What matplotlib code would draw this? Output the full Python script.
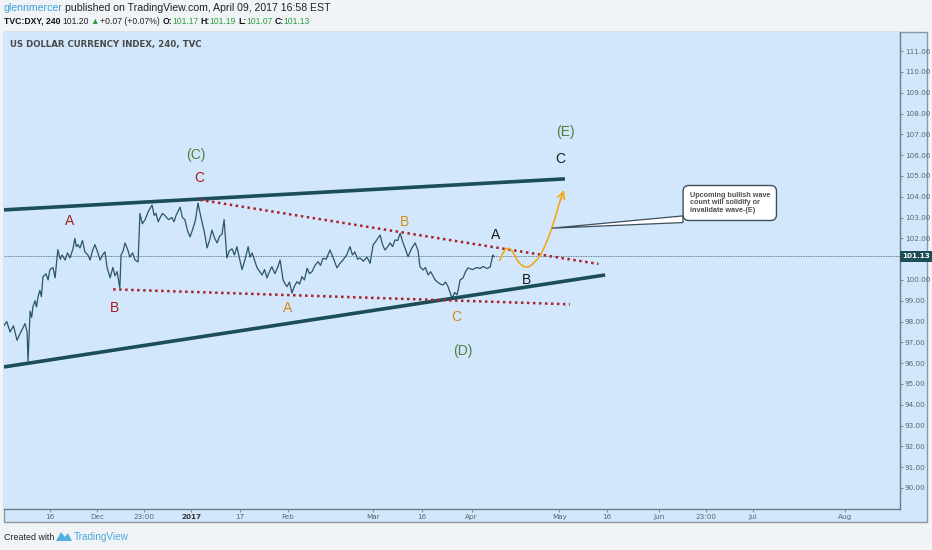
import matplotlib
matplotlib.use("Agg")
import matplotlib.pyplot as plt
from matplotlib.patches import Rectangle, Polygon

# price path (x in chart days from 1 Jan 2017, y = DXY close)
days = [-61.5, -60.6, -59.5, -58.4, -57.2, -56.3, -55.6, -54.6, -53.9, -53.6,
        -52.9, -52.4, -52.0, -51.3, -50.8, -50.3, -49.7, -49.2, -48.7, -47.7,
        -47.0, -46.4, -45.4, -44.7, -43.8, -43.0, -42.4, -41.4, -40.6, -39.8,
        -38.8, -38.2, -37.7, -37.2, -36.5, -35.7, -34.9, -33.9, -33.2, -32.4,
        -31.6, -30.6, -29.9, -29.1, -28.3, -27.6, -26.6, -25.7, -25.0, -24.3,
        -23.4, -23.0, -22.3, -21.7, -20.9, -20.1, -19.2, -18.4, -17.4, -16.8,
        -16.0, -15.1, -14.0, -12.8, -12.1, -11.5, -10.8, -10.2, -9.4, -8.6,
        -7.4, -6.3, -5.6, -4.9, -3.6, -2.8, -2.0, -1.2, -0.3, 0.7,
        1.5, 2.3, 3.0, 3.6, 4.4, 5.3, 6.1, 6.9, 7.8, 8.6,
        9.4, 10.2, 10.9, 11.8, 12.6, 13.5, 14.3, 15.1, 16.0, 16.8,
        17.8, 18.8, 19.4, 20.1, 21.0, 21.7, 22.6, 23.4, 24.2, 25.0,
        25.8, 26.6, 27.6, 28.6, 29.3, 30.3, 31.0, 31.6, 32.4, 33.2,
        34.0, 34.9, 35.7, 36.5, 37.3, 38.2, 39.0, 39.8, 40.8, 41.8,
        42.6, 43.4, 44.5, 45.7, 46.4, 47.2, 48.0, 49.0, 50.0, 51.2,
        52.3, 53.1, 53.9, 54.8, 55.6, 56.7, 57.9, 58.9, 59.9, 61.0,
        62.2, 63.0, 63.8, 64.7, 65.5, 66.3, 67.1, 68.0, 68.8, 69.7,
        70.5, 71.4, 72.5, 73.7, 74.2, 74.7, 75.3, 76.3, 77.1, 78.0,
        78.8, 79.6, 80.3, 80.9, 82.0, 82.9, 83.7, 84.5, 85.2, 85.9,
        86.7, 87.5, 88.0, 88.5, 89.5, 90.3, 91.1, 92.6, 94.1, 95.1,
        96.1, 97.3, 98.4, 99.3, 99.7]
closes = [97.8, 98.0, 97.5, 97.8, 97.1, 97.4, 97.6, 97.9, 97.5, 96.1,
          98.5, 98.2, 98.7, 99.0, 98.7, 99.2, 99.5, 99.2, 100.15, 100.3,
          100.0, 100.5, 100.6, 100.1, 101.45, 101.0, 101.2, 100.96, 101.3, 101.06,
          101.5, 102.0, 101.6, 101.7, 101.54, 101.9, 101.35, 101.2, 100.96, 101.4,
          101.7, 101.3, 100.96, 101.2, 101.35, 100.6, 100.1, 100.6, 100.2, 100.4,
          99.6, 101.2, 101.4, 101.78, 101.5, 101.1, 101.3, 100.96, 100.87, 103.2,
          102.7, 102.9, 103.3, 103.6, 103.1, 103.2, 102.8, 102.98, 103.2, 103.1,
          102.9, 103.0, 102.8, 103.1, 103.5, 103.0, 102.9, 102.4, 102.07, 102.5,
          102.9, 103.7, 103.2, 102.8, 102.3, 101.54, 101.9, 102.4, 102.0, 101.78,
          102.1, 102.2, 102.9, 101.06, 101.4, 101.5, 101.2, 101.6, 101.0, 100.5,
          101.0, 101.6, 101.1, 101.3, 100.9, 100.6, 100.4, 100.24, 100.5, 100.1,
          100.4, 100.64, 100.3, 100.64, 100.96, 100.0, 99.8, 99.68, 99.9, 99.37,
          99.7, 99.92, 99.8, 100.16, 100.0, 100.56, 100.3, 100.4, 100.7, 100.88,
          100.7, 101.04, 101.0, 101.44, 101.2, 100.9, 100.58, 100.8, 100.96, 101.2,
          101.6, 101.2, 101.35, 101.0, 101.06, 100.9, 101.1, 100.8, 101.68, 101.9,
          102.16, 101.7, 101.44, 101.6, 101.78, 101.6, 101.92, 101.9, 102.25, 101.8,
          101.5, 101.12, 101.5, 101.78, 101.6, 101.4, 100.64, 100.48, 100.6, 100.24,
          100.4, 100.2, 100.0, 99.92, 99.8, 99.76, 99.9, 99.7, 99.4, 99.12,
          99.4, 99.28, 99.6, 100.0, 100.1, 100.4, 100.58, 100.5, 100.6, 100.55,
          100.65, 100.55, 100.62, 101.2, 101.13]
last_price = 101.13

# drawn trendlines: (day0, price0, day1, price1)
upper_channel = (-61.5, 103.37, 123.0, 104.86)
lower_channel = (-61.5, 95.82, 136.2, 100.24)
upper_dotted = (3.0, 103.85, 134.0, 100.77)
lower_dotted = (-25.6, 99.55, 124.6, 98.83)

# projected wave path
proj_days = [101.6, 102.6, 103.6, 104.6, 105.6, 106.8, 108.0, 109.5, 111.0,
             112.3, 113.6, 115.0, 116.3, 117.6, 118.8, 120.0, 121.2, 122.4, 123.0]
proj_price = [100.95, 101.3, 101.5, 101.52, 101.4, 101.1, 100.8, 100.64, 100.62,
              100.75, 100.95, 101.2, 101.6, 102.05, 102.55, 103.1, 103.7, 104.2, 104.45]

# wave labels: text, day, price, colour
GREEN, RED, ORANGE, BLACK = '#4f7f3f', '#a61c1c', '#d98a16', '#1a1a1a'
wave_labels = [
    ('(C)', 1.6, 106.0, GREEN), ('C', 2.6, 104.9, RED),
    ('A', -39.8, 102.84, RED), ('B', -25.0, 98.65, RED),
    ('A', 31.9, 98.65, ORANGE), ('B', 70.1, 102.79, ORANGE),
    ('C', 87.4, 98.22, ORANGE), ('(D)', 89.5, 96.59, GREEN),
    ('A', 100.3, 102.16, BLACK), ('B', 110.5, 100.0, BLACK),
    ('C', 121.4, 105.82, BLACK), ('(E)', 123.0, 107.1, GREEN),
]

# x axis ticks (TradingView bar-spaced axis)
tick_pos = [-46.4, -30.9, -15.5, 0.0, 16.1, 31.9, 59.9, 76.0, 92.3,
            121.2, 136.9, 153.9, 169.4, 184.8, 215.1]
tick_lab = ['16', 'Dec', '23:00', '2017', '17', 'Feb', 'Mar', '16', 'Apr',
            'May', '16', 'Jun', '23:00', 'Jul', 'Aug']
price_ticks = [p for p in range(90, 112) if p != 101]

W, H = 932, 550
PANEL = '#d2e7fb'
LINE = '#1b4e58'
GREY = '#5b6670'
SANS = 'Liberation Sans'

fig = plt.figure(figsize=(W / 100, H / 100), dpi=100, facecolor='#f1f4f7')


def px(x, y):
    return x / W, 1 - y / H


# chart panel incl. price scale
fig.patches.append(Rectangle(px(4, 522), 923 / W, 490 / H, transform=fig.transFigure,
                             fc=PANEL, ec='#8c98a3', lw=1.0, zorder=-5))

ax = fig.add_axes([4 / W, 1 - 509 / H, 896 / W, 477 / H])
ax.set_facecolor(PANEL)
ax.set_xlim(-61.5, 233.2)
ax.set_ylim(88.99, 111.92)
for side in ['top', 'left']:
    ax.spines[side].set_visible(False)
for side in ['right', 'bottom']:
    ax.spines[side].set_color('#6f7c87')
    ax.spines[side].set_linewidth(1.0)

ax.yaxis.tick_right()
ax.set_yticks(price_ticks)
ax.set_yticklabels([f'{p:.2f}' for p in price_ticks])
ax.set_xticks(tick_pos)
ax.set_xticklabels(tick_lab)
ax.tick_params(axis='both', colors='#6f7c87', labelcolor=GREY, labelsize=5.2,
               length=2.2, width=0.6, pad=1.2)
for lab in ax.get_xticklabels():
    if lab.get_text() == '2017':
        lab.set_fontweight('bold')
        lab.set_color('#333333')

# price
ax.plot(days, closes, color='#2b5662', lw=0.9, zorder=3)
ax.axhline(last_price, color='#3b5c66', lw=0.6, ls=(0, (1, 1)), zorder=2)
ax.annotate(f'{last_price:.2f}', xy=(1, last_price), xycoords=('axes fraction', 'data'),
            xytext=(1.5, 0), textcoords='offset points', va='center', ha='left',
            fontsize=5.2, fontweight='bold', color='white', zorder=10,
            annotation_clip=False,
            bbox=dict(boxstyle='square,pad=0.35', fc='#1b4e58', ec='none'))

# channel lines
for d0, p0, d1, p1 in [upper_channel, lower_channel]:
    ax.plot([d0, d1], [p0, p1], color=LINE, lw=2.6, solid_capstyle='butt', zorder=4)
for d0, p0, d1, p1 in [upper_dotted, lower_dotted]:
    ax.plot([d0, d1], [p0, p1], color='#a8232e', lw=1.8, ls=(0, (1, 1.4)), zorder=4)

# projected path
ax.plot(proj_days[:-1], proj_price[:-1], color='#f2a81d', lw=1.2, zorder=5)
ax.annotate('', xy=(proj_days[-1], proj_price[-1]), xytext=(proj_days[-3], proj_price[-3]),
            arrowprops=dict(arrowstyle='->,head_length=0.5,head_width=0.25',
                            color='#f2a81d', lw=1.2), zorder=5)

for txt, d, p, c in wave_labels:
    ax.text(d, p, txt, color=c, fontsize=10, ha='center', va='center',
            family=SANS, zorder=6)

# callout
ax.add_patch(Polygon([(161.8, 103.08), (118.65, 102.49), (161.8, 102.76)],
                     closed=True, fc='white', ec='#3d4f5a', lw=0.9, zorder=6))
ax.text(164.0, 103.7,
        'Upcoming bullish wave\ncount will solidify or\ninvalidate wave-(E)',
        fontsize=5.2, fontweight='bold', color='#4a4f55', family=SANS,
        ha='left', va='center', linespacing=1.1, zorder=7,
        bbox=dict(boxstyle='round,pad=0.9,rounding_size=0.8', fc='white',
                  ec='#3d4f5a', lw=1.0))

# chart title
fig.text(*px(10, 44), 'US DOLLAR CURRENCY INDEX, 240, TVC', fontsize=6.2,
         fontweight='bold', color='#4a4a4a', va='center', ha='left')

# header rows
renderer = fig.canvas.get_renderer()


def put_row(y, x, segments, size):
    for text, color, weight, gap in segments:
        t = fig.text(*px(x, y), text, color=color, fontweight=weight, fontsize=size,
                     va='center', ha='left', family=SANS)
        x += t.get_window_extent(renderer).width + gap


put_row(8, 4, [('glennmercer', '#3a9fd6', 'normal', 2),
               ('published on TradingView.com, April 09, 2017 16:58 EST',
                '#222222', 'normal', 0)], 7.6)
put_row(21, 4, [('TVC:DXY, 240', '#111111', 'bold', 2),
                ('101.20', '#222222', 'normal', 1.5),
                ('\u25B2', '#2e9e3e', 'normal', 1.5),
                ('+0.07 (+0.07%)', '#222222', 'normal', 2),
                ('O:', '#111111', 'bold', 0), ('101.17', '#2e9e3e', 'normal', 2),
                ('H:', '#111111', 'bold', 0), ('101.19', '#2e9e3e', 'normal', 2),
                ('L:', '#111111', 'bold', 0), ('101.07', '#2e9e3e', 'normal', 2),
                ('C:', '#111111', 'bold', 0), ('101.13', '#2e9e3e', 'normal', 0)],
        6.2)

# footer
fig.text(*px(4, 537), 'Created with', fontsize=6.4, color='#222222', va='center',
         family=SANS)
fig.patches.append(Polygon([px(56, 541), px(61, 532), px(65, 537), px(68, 533),
                            px(72, 541)], closed=True, transform=fig.transFigure,
                           fc='#56aee0', ec='none'))
fig.text(*px(74, 537), 'TradingView', fontsize=7.2, color='#4aa8dc', va='center',
         family=SANS)

fig.savefig('out.png', dpi=100, facecolor=fig.get_facecolor())
